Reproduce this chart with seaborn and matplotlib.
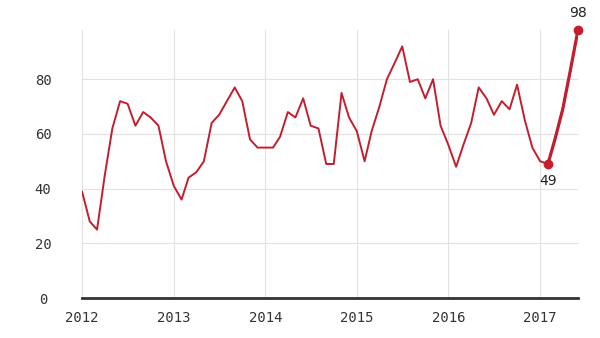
import matplotlib
matplotlib.use("Agg")
import matplotlib.pyplot as plt
import matplotlib.dates as mdates
import pandas as pd
import seaborn as sns

values = [39, 28, 25, 45, 62, 72, 71, 63, 68, 66, 63, 50,
          41, 36, 44, 46, 50, 64, 67, 72, 77, 72, 58, 55,
          55, 55, 59, 68, 66, 73, 63, 62, 49, 49, 75, 66,
          61, 50, 61, 70, 80, 86, 92, 79, 80, 73, 80, 63,
          56, 48, 56, 64, 77, 73, 67, 72, 69, 78, 65, 55,
          50, 49, 58, 69, 83, 98]
months = pd.date_range("2012-01-01", periods=len(values), freq="MS")
yticks = [0, 20, 40, 60, 80]
low_idx, high_idx = 61, 65

df = pd.DataFrame({"month": months, "value": values})
recent = df.iloc[low_idx:high_idx + 1]

sns.set_style("white")
red = "#c41e2e"

fig = plt.figure(figsize=(6, 3.38), dpi=100)
ax = fig.add_axes([82 / 600, 40 / 338, 496 / 600, 268 / 338])

sns.lineplot(data=df, x="month", y="value", color=red, lw=1.4, ax=ax)
sns.lineplot(data=recent, x="month", y="value", color=red, lw=2.3, ax=ax)
ax.plot(recent["month"].iloc[[0, -1]], recent["value"].iloc[[0, -1]], "o",
        color=red, ms=6, clip_on=False, zorder=5)

ax.annotate(str(values[low_idx]), (months[low_idx], values[low_idx]),
            xytext=(0, -7), textcoords="offset points", ha="center", va="top",
            fontsize=10, color="#222")
ax.annotate(str(values[high_idx]), (months[high_idx], values[high_idx]),
            xytext=(0, 7), textcoords="offset points", ha="center", va="bottom",
            fontsize=10, color="#222")

ax.set_xlim(months[0], months[-1])
ax.set_ylim(0, 98)
ax.set_yticks(yticks)
ax.xaxis.set_major_locator(mdates.YearLocator())
ax.xaxis.set_major_formatter(mdates.DateFormatter("%Y"))
ax.grid(True, color="#e2e2e2", lw=0.8)
ax.set_axisbelow(True)
ax.set_xlabel("")
ax.set_ylabel("")
for s in ["top", "right", "left"]:
    ax.spines[s].set_visible(False)
ax.spines["bottom"].set_color("#333")
ax.spines["bottom"].set_linewidth(2)

ax.tick_params(axis="both", length=0, labelsize=10, labelcolor="#333")
ax.tick_params(axis="x", pad=9)
ax.tick_params(axis="y", pad=28)
for lab in ax.get_yticklabels():
    lab.set_horizontalalignment("center")
for lab in ax.get_xticklabels() + ax.get_yticklabels():
    lab.set_family("DejaVu Sans Mono")

fig.savefig("out.png", dpi=100)
